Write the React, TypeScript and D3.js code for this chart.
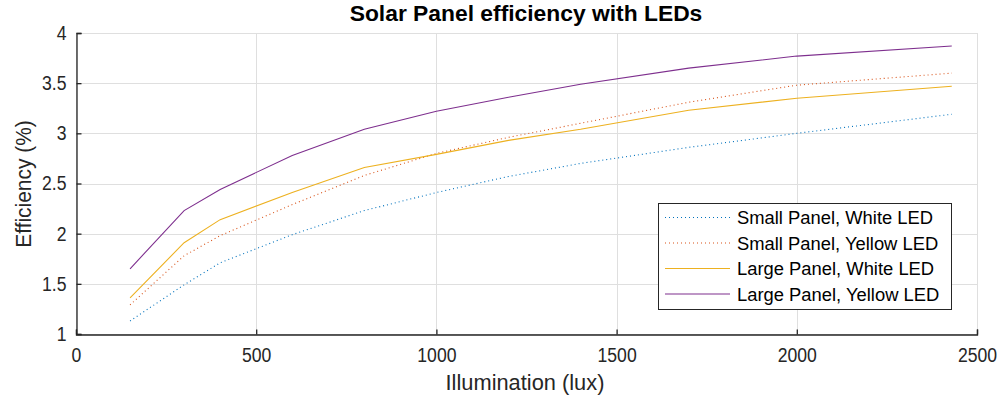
import React, { useEffect, useRef } from 'react';
import * as d3 from 'd3';

const lux = [150, 300, 400, 600, 800, 1000, 1200, 1400, 1700, 2000, 2430];
const smallWhite = [1.13, 1.49, 1.71, 1.99, 2.23, 2.41, 2.57, 2.70, 2.86, 3.00, 3.19];
const smallYellow = [1.29, 1.78, 1.98, 2.29, 2.58, 2.80, 2.96, 3.10, 3.31, 3.48, 3.60];
const largeWhite = [1.36, 1.91, 2.14, 2.41, 2.66, 2.79, 2.93, 3.04, 3.23, 3.35, 3.47];
const largeYellow = [1.65, 2.23, 2.44, 2.78, 3.04, 3.22, 3.36, 3.49, 3.65, 3.77, 3.87];

const seriesNames = ['Small Panel, White LED', 'Small Panel, Yellow LED', 'Large Panel, White LED', 'Large Panel, Yellow LED'];
const seriesColors = ['#0072BD', '#D95319', '#EDB120', '#7E2F8E'];
const seriesDash = ['1 3', '1 3', null, null];
const xTicks = [0, 500, 1000, 1500, 2000, 2500];
const yTicks = [1, 1.5, 2, 2.5, 3, 3.5, 4];

const FONT = '"Liberation Sans", Arial, Helvetica, sans-serif';

// squeeze/stretch text horizontally so it matches the narrower MATLAB glyphs
function fit(sel: any, factor: number) {
  sel.each(function (this: SVGTextElement) {
    const w = this.getComputedTextLength();
    d3.select(this).attr('textLength', w * factor).attr('lengthAdjust', 'spacingAndGlyphs');
  });
}

export default function App() {
  const ref = useRef<SVGSVGElement>(null);

  useEffect(() => {
    if (!ref.current) return;
    const svg = d3.select(ref.current);
    svg.selectAll('*').remove();

    const m = { left: 76, right: 977, top: 33, bottom: 334 };
    const x = d3.scaleLinear().domain([0, 2500]).range([m.left, m.right]);
    const y = d3.scaleLinear().domain([1, 4]).range([m.bottom, m.top]);

    // grid
    const grid = svg.append('g').attr('stroke', '#dfdfdf').attr('stroke-width', 1);
    xTicks.forEach(t => grid.append('line')
      .attr('x1', Math.round(x(t)) + 0.5).attr('x2', Math.round(x(t)) + 0.5)
      .attr('y1', m.top).attr('y2', m.bottom));
    yTicks.forEach(t => grid.append('line')
      .attr('y1', Math.round(y(t)) + 0.5).attr('y2', Math.round(y(t)) + 0.5)
      .attr('x1', m.left).attr('x2', m.right));

    // lines
    const all = [smallWhite, smallYellow, largeWhite, largeYellow];
    const line = d3.line<number>().x((_, i) => x(lux[i])).y(d => y(d));
    all.forEach((vals, i) => {
      svg.append('path')
        .attr('d', line(vals))
        .attr('fill', 'none')
        .attr('stroke', seriesColors[i])
        .attr('stroke-width', 1.1)
        .attr('stroke-dasharray', seriesDash[i]);
    });

    // axes
    const xAxis = svg.append('g').attr('transform', `translate(0,${m.bottom + 0.5})`)
      .call(d3.axisBottom(x).tickValues(xTicks).tickSize(-5).tickPadding(13).tickFormat(d3.format('d')));
    const yAxis = svg.append('g').attr('transform', `translate(${m.left + 0.5},0)`)
      .call(d3.axisLeft(y).tickValues(yTicks).tickSize(-5).tickPadding(10).tickFormat(d => `${d}`));
    [xAxis, yAxis].forEach(a => {
      a.select('.domain').attr('stroke', '#262626').attr('stroke-width', 1.3);
      a.selectAll('.tick line').attr('stroke', '#262626').attr('stroke-width', 1.3);
      a.selectAll('.tick text').attr('fill', '#262626').attr('font-size', 20).attr('font-family', FONT);
      fit(a.selectAll('.tick text'), 0.88);
    });

    // title and labels
    svg.append('text').attr('x', 526).attr('y', 21).attr('text-anchor', 'middle')
      .attr('font-family', FONT).attr('font-weight', 'bold')
      .attr('font-size', 22.5).attr('fill', '#000').text('Solar Panel efficiency with LEDs')
      .call(fit, 352 / 347);
    svg.append('text').attr('x', 525).attr('y', 390).attr('text-anchor', 'middle')
      .attr('font-family', FONT).attr('font-size', 22.5).attr('fill', '#262626')
      .text('Illumination (lux)')
      .call(fit, 0.97);
    svg.append('text').attr('transform', 'translate(31,184) rotate(-90)').attr('text-anchor', 'middle')
      .attr('font-family', FONT).attr('font-size', 22.5).attr('fill', '#262626')
      .text('Efficiency (%)')
      .call(fit, 0.93);

    // legend
    const lg = svg.append('g');
    lg.append('rect').attr('x', 658.5).attr('y', 203.5).attr('width', 293).attr('height', 106)
      .attr('fill', '#fff').attr('stroke', '#262626').attr('stroke-width', 1);
    seriesNames.forEach((name, i) => {
      const yy = 217.5 + i * 25.5;
      lg.append('line').attr('x1', 665).attr('x2', 730).attr('y1', yy).attr('y2', yy)
        .attr('stroke', seriesColors[i]).attr('stroke-width', 1.1)
        .attr('stroke-dasharray', seriesDash[i]);
      lg.append('text').attr('x', 737).attr('y', yy + 6.5)
        .attr('font-family', FONT).attr('font-size', 17.5)
        .attr('fill', '#000').text(name)
        .call(fit, 1.05);
    });
  }, []);

  return (
    <svg ref={ref} width={999} height={401}
      style={{ position: 'absolute', left: 0, top: 0, background: '#fff' }} />
  );
}
